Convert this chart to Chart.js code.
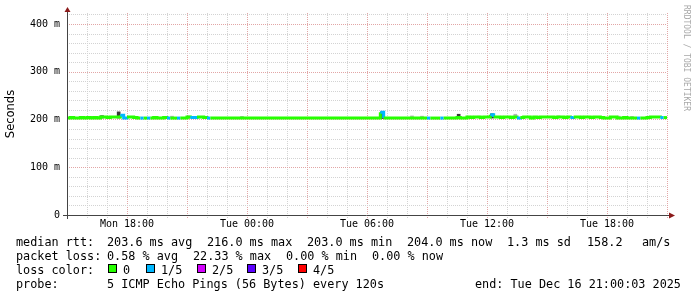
<!DOCTYPE html>
<html>
<head>
<meta charset="utf-8">
<script src="https://cdn.jsdelivr.net/npm/chart.js@4"></script>
<style>
  body { margin: 0; background: #fff; }
  canvas { display: block; }
</style>
</head>
<body>
<canvas id="myChart" width="697" height="297"></canvas>
<script>
// one value per 10 minutes, Mon 15:00 -> Tue 21:00 (180 buckets), rtt in ms
const median = [
  203,204,203,203,204,203,204,203,204,203,
  205,205,204,205,205,205,209,203,205,205,
  204,203,203,203,203,203,204,203,203,204,
  203,203,203,203,203,203,205,204,204,205,
  205,204,203,203,203,203,203,203,203,203,
  203,203,203,203,203,203,203,203,203,203,
  203,203,203,203,203,203,203,203,203,203,
  203,203,203,203,203,203,203,203,203,203,
  203,203,203,203,203,203,203,203,203,203,
  203,203,203,203,215,203,203,203,203,203,
  203,203,203,203,203,203,203,203,203,203,
  203,203,203,203,203,203,203,204,203,203,
  205,204,205,205,204,205,205,210,205,205,
  204,205,205,204,205,203,204,205,205,203,
  205,204,205,205,205,205,204,205,205,204,
  205,204,205,205,204,205,205,204,205,205,
  204,203,203,205,205,203,203,204,203,203,
  203,203,203,203,204,205,205,205,204,204
];
// lost pings out of 5 per bucket
const loss = [
  0,0,0,0,0,0,0,0,0,0,
  0,0,0,0,0,0,1,1,0,0,
  0,0,1,0,1,0,0,0,0,0,
  1,0,0,1,0,0,0,1,1,0,
  0,0,1,0,0,0,0,0,0,0,
  0,0,0,0,0,0,0,0,0,0,
  0,0,0,0,0,0,0,0,0,0,
  0,0,0,0,0,0,0,0,0,0,
  0,0,0,0,0,0,0,0,0,0,
  0,0,0,0,1,0,0,0,0,0,
  0,0,0,0,0,0,0,0,1,0,
  0,0,1,0,0,0,0,0,0,0,
  0,0,0,0,0,0,0,1,0,0,
  0,0,0,0,0,1,0,0,0,0,
  0,0,0,0,0,0,0,0,0,0,
  0,1,0,0,0,0,0,0,0,0,
  0,0,0,0,0,0,0,0,0,0,
  0,1,0,0,0,0,0,0,1,0
];
// smoke (spread of the pings) where it shows above the median
const smokeAt   = [1, 4, 7, 8, 10, 15, 31, 36, 39, 52, 94, 103, 106, 117, 121, 123, 127, 130, 134, 147, 154, 165, 167, 169];
const smokeLow  = [203, 203, 203, 203, 203, 203, 203, 203, 203, 203, 202, 203, 203, 205, 204, 204, 203, 204, 204, 204, 204, 203, 203, 203];
const smokeHigh = [206.5, 206.5, 206, 206.5, 208, 216, 207, 207, 206.5, 206.5, 216, 207.5, 207, 211, 207, 207, 212, 207, 211, 207.5, 207, 207, 206.5, 206.5];
const smokeDark = [0, 0, 0, 0, 1, 1, 0, 1, 0, 0, 1, 0, 0, 1, 0, 0, 1, 0, 0, 0, 0, 0, 0, 0];

const lossColors = ['#26ff00', '#00b8ff', '#d400ff', '#5b00ff', '#ff0000'];
const lossLabels = ['0', '1/5', '2/5', '3/5', '4/5'];

const timeTickAt = [180, 540, 900, 1260, 1620];
const timeTickLabels = ['Mon 18:00', 'Tue 00:00', 'Tue 06:00', 'Tue 12:00', 'Tue 18:00'];

const statsRtt  = ['median rtt:', '203.6 ms avg', '216.0 ms max', '203.0 ms min', '204.0 ms now', '1.3 ms sd', '158.2', 'am/s'];
const statsLoss = ['packet loss:', '0.58 % avg', '22.33 % max', '0.00 % min', '0.00 % now'];
const probeText = ['probe:', '5 ICMP Echo Pings (56 Bytes) every 120s', 'end: Tue Dec 16 21:00:03 2025'];

const MONO = '"DejaVu Sans Mono", monospace';
const MINOR = '#d3d3d3';
const MAJOR = '#e2a6a6';

const medianData = median.map((v, i) => ({x: i * 10, y: v}));
medianData.push({x: 1800, y: median[median.length - 1]});
const smokeData = smokeAt.map((b, i) => ({x: b * 10 + 5, y: [smokeLow[i], smokeHigh[i]]}));

// dotted rrdtool style grid, minor every hour / 20 ms, major every 3 hours / 100 ms
const dottedGrid = {
  id: 'dottedGrid',
  beforeDatasetsDraw(chart) {
    const ctx = chart.ctx;
    const a = chart.chartArea;
    const xs = chart.scales.x;
    const ys = chart.scales.y;
    ctx.save();
    ctx.lineWidth = 1;
    ctx.setLineDash([1, 1]);
    for (let v = 0; v <= 1800; v += 60) {
      const x = Math.round(xs.getPixelForValue(v)) + 0.5;
      ctx.strokeStyle = v % 180 === 0 ? MAJOR : MINOR;
      ctx.beginPath();
      ctx.moveTo(x, a.top);
      ctx.lineTo(x, a.bottom + 3);
      ctx.stroke();
    }
    for (let v = 20; v <= 420; v += 20) {
      const y = Math.round(ys.getPixelForValue(v)) + 0.5;
      ctx.strokeStyle = v % 100 === 0 ? MAJOR : MINOR;
      ctx.beginPath();
      ctx.moveTo(a.left, y);
      ctx.lineTo(a.right, y);
      ctx.stroke();
    }
    ctx.restore();
  }
};

const decorations = {
  id: 'decorations',
  afterDraw(chart) {
    const ctx = chart.ctx;
    const a = chart.chartArea;
    ctx.save();

    // axes with arrows
    ctx.strokeStyle = '#444';
    ctx.lineWidth = 1;
    ctx.beginPath();
    ctx.moveTo(a.left - 4, a.bottom + 0.5);
    ctx.lineTo(a.right + 3, a.bottom + 0.5);
    ctx.moveTo(a.left + 0.5, a.bottom + 4);
    ctx.lineTo(a.left + 0.5, a.top - 2);
    ctx.stroke();
    ctx.fillStyle = '#8b1a1a';
    ctx.beginPath();
    ctx.moveTo(a.left + 0.5, a.top - 6);
    ctx.lineTo(a.left - 2.5, a.top - 1);
    ctx.lineTo(a.left + 3.5, a.top - 1);
    ctx.fill();
    ctx.beginPath();
    ctx.moveTo(a.right + 8, a.bottom + 0.5);
    ctx.lineTo(a.right + 2, a.bottom - 2.5);
    ctx.lineTo(a.right + 2, a.bottom + 3.5);
    ctx.fill();

    // watermark
    ctx.save();
    ctx.translate(686, 5);
    ctx.rotate(Math.PI / 2);
    ctx.font = '8px ' + MONO;
    ctx.fillStyle = '#a8a8a8';
    ctx.textBaseline = 'middle';
    ctx.fillText('RRDTOOL / TOBI OETIKER', 0, 0);
    ctx.restore();

    // legend text
    ctx.font = '11.8px ' + MONO;
    ctx.fillStyle = '#000';
    ctx.textBaseline = 'alphabetic';
    const rttX = [16, 107, 207, 307, 407, 507, 587, 642];
    statsRtt.forEach((t, i) => ctx.fillText(t, rttX[i], 246));
    const lossX = [16, 107, 193, 286, 372];
    statsLoss.forEach((t, i) => ctx.fillText(t, lossX[i], 260));
    ctx.fillText('loss color:', 16, 274);
    const boxX = [108, 146, 197, 247, 298];
    lossLabels.forEach((t, i) => {
      ctx.fillStyle = lossColors[i];
      ctx.fillRect(boxX[i], 264, 9, 9);
      ctx.strokeStyle = '#000';
      ctx.strokeRect(boxX[i] + 0.5, 264.5, 8, 8);
      ctx.fillStyle = '#000';
      ctx.fillText(t, boxX[i] + 15, 274);
    });
    const probeX = [16, 107, 475];
    probeText.forEach((t, i) => ctx.fillText(t, probeX[i], 288));

    ctx.restore();
  }
};

new Chart(document.getElementById('myChart'), {
  type: 'line',
  data: {
    datasets: [
      {
        type: 'line',
        data: medianData,
        stepped: true,
        borderWidth: 3,
        pointRadius: 0,
        borderCapStyle: 'butt',
        borderColor: lossColors[0],
        segment: {
          borderColor: c => lossColors[loss[Math.min(c.p0DataIndex, loss.length - 1)]]
        },
        order: 0
      },
      {
        type: 'bar',
        data: smokeData,
        barThickness: 3,
        borderWidth: 0,
        backgroundColor: c => smokeDark[c.dataIndex] ? '#3a3a3a' : '#b4b4b4',
        order: 1
      }
    ]
  },
  options: {
    responsive: false,
    animation: false,
    devicePixelRatio: 1,
    layout: { padding: { left: 0, right: 30, top: 13, bottom: 62 } },
    plugins: { legend: { display: false }, tooltip: { enabled: false } },
    scales: {
      x: {
        type: 'linear',
        min: 0,
        max: 1800,
        offset: false,
        afterBuildTicks: s => { s.ticks = timeTickAt.map(v => ({value: v})); },
        afterFit: s => { s.height = 20; },
        grid: { display: false, drawTicks: false },
        border: { display: false },
        ticks: {
          autoSkip: false,
          maxRotation: 0,
          padding: 3,
          color: '#000',
          font: { family: MONO, size: 10 },
          callback: v => timeTickLabels[timeTickAt.indexOf(v)]
        }
      },
      y: {
        min: 0,
        max: 423,
        afterBuildTicks: s => { s.ticks = []; for (let v = 0; v <= 400; v += 100) s.ticks.push({value: v}); },
        afterFit: s => { s.width = 67; },
        grid: { display: false, drawTicks: false },
        border: { display: false },
        title: {
          display: true,
          text: 'Seconds',
          color: '#000',
          padding: { top: 4, bottom: 0 },
          font: { family: '"DejaVu Sans", sans-serif', size: 11.5, weight: 'normal' }
        },
        ticks: {
          autoSkip: false,
          padding: 7,
          color: '#000',
          font: { family: MONO, size: 10 },
          callback: v => v === 0 ? '0' : v + ' m'
        }
      }
    }
  },
  plugins: [dottedGrid, decorations]
});
</script>
</body>
</html>
